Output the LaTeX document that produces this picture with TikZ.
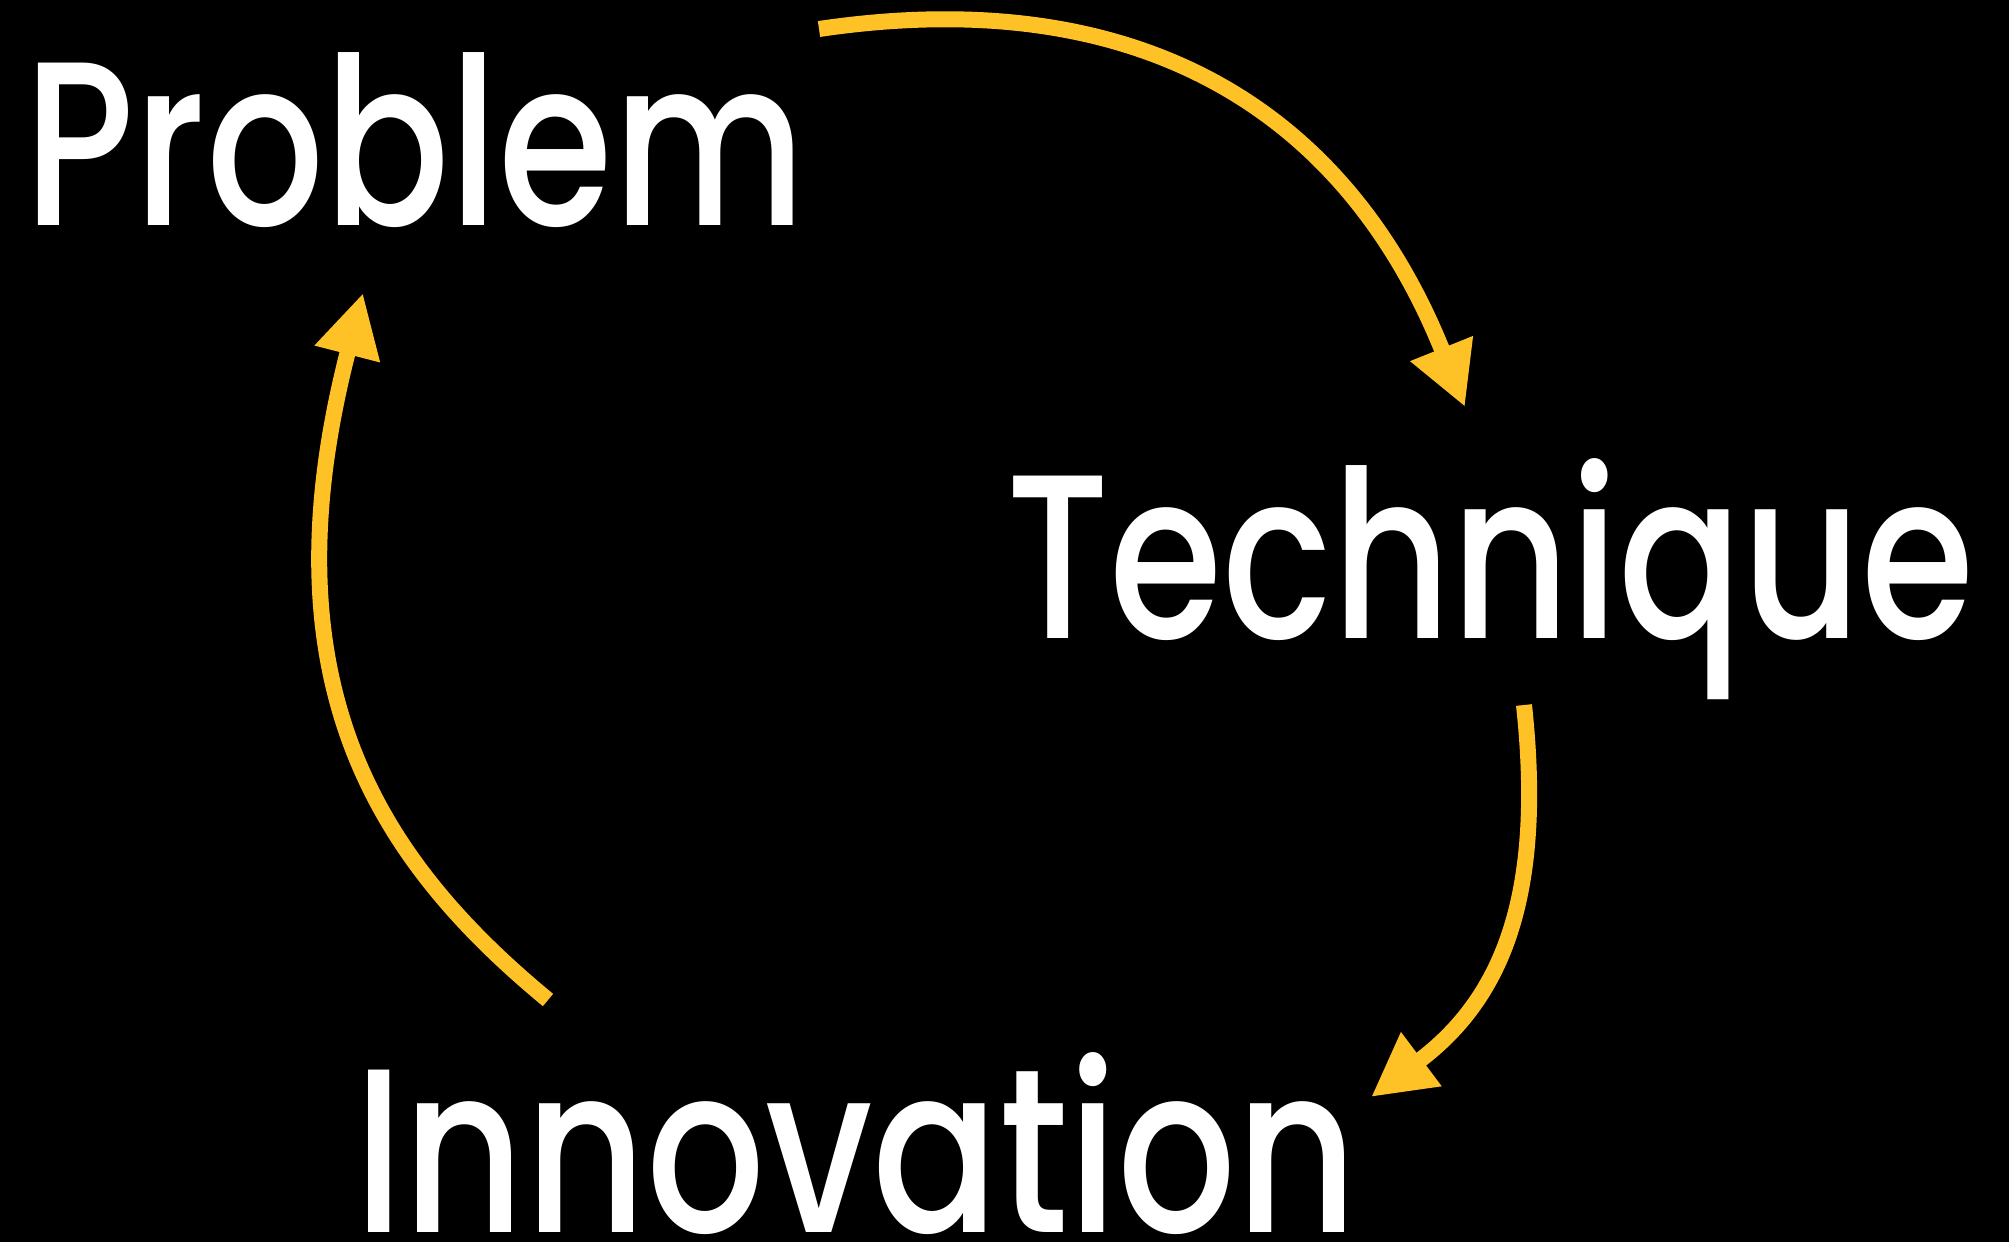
\documentclass[tikz,border=0pt]{standalone}
\usepackage{fontspec}
\setmainfont{Poppins Medium}
\usetikzlibrary{arrows.meta}
\definecolor{arrowyellow}{RGB}{255,194,38}
\begin{document}
\begin{tikzpicture}[x=0.1mm,y=-0.1mm,
  word/.style={anchor=base west,inner sep=0pt,text=white,font=\fontsize{66.5pt}{80pt}\selectfont},
  cycarrow/.style={draw=arrowyellow,line width=1.6mm,-{Triangle[length=6.3mm,width=6.3mm]}}]
\fill[black] (0,0) rectangle (2009,1242);
\useasboundingbox (0,0) rectangle (2009,1242);
\node[word] (problem) at (24,225) {\resizebox{78.1mm}{\height}{Problem}};
\node[word] (technique) at (1006,638) {\resizebox{96.8mm}{\height}{Technique}};
\node[word] (innovation) at (354,1232) {\resizebox{100.3mm}{\height}{Innovation}};
\coordinate (s1) at (819,29);
\coordinate (e1) at (1465,407);
\coordinate (s2) at (1524,705);
\coordinate (e2) at (1371,1097);
\coordinate (s3) at (548,1000);
\coordinate (e3) at (363,293);
\draw[cycarrow] (s1) .. controls (1150,-20) and (1350,120) .. (e1);
\draw[cycarrow] (s2) .. controls (1545,900) and (1500,1000) .. (e2);
\draw[cycarrow] (s3) .. controls (376,858) and (263,681) .. (e3);
\end{tikzpicture}
\end{document}
